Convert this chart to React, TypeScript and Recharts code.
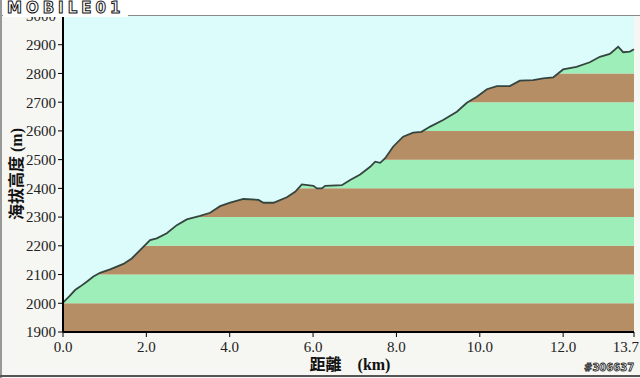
import React from 'react';
import {
  ComposedChart, Area, Line, XAxis, YAxis, ReferenceArea, Label,
} from 'recharts';

// Elevation profile (km, m)
const distances = [
  0, 0.15, 0.29, 0.41, 0.57, 0.73, 0.89, 1.13, 1.45, 1.65, 1.85, 2.09, 2.25, 2.49, 2.73, 2.97,
  3.29, 3.53, 3.77, 4.01, 4.33, 4.69, 4.81, 5.05, 5.37, 5.57, 5.73, 6.01, 6.09, 6.21, 6.29,
  6.69, 6.89, 7.13, 7.37, 7.49, 7.61, 7.73, 7.92, 8.16, 8.4, 8.6, 8.81, 9.12, 9.45, 9.69,
  9.93, 10.17, 10.41, 10.72, 10.96, 11.28, 11.52, 11.76, 12.0, 12.32, 12.64, 12.88, 13.12,
  13.32, 13.44, 13.6, 13.7,
];
const elevations = [
  2002, 2024, 2046, 2058, 2075, 2093, 2106, 2118, 2137, 2156, 2185, 2220, 2226, 2244, 2272, 2292,
  2304, 2315, 2338, 2350, 2363, 2360, 2350, 2350, 2369, 2388, 2414, 2409, 2400, 2400, 2409,
  2411, 2429, 2448, 2475, 2493, 2489, 2505, 2545, 2580, 2594, 2597, 2615, 2638, 2667, 2698,
  2719, 2745, 2756, 2756, 2775, 2777, 2783, 2786, 2814, 2823, 2839, 2858, 2868,
  2893, 2874, 2876, 2884,
];

const xTicks = [0, 2, 4, 6, 8, 10, 12, 13.7];
const yTicks = [1900, 2000, 2100, 2200, 2300, 2400, 2500, 2600, 2700, 2800, 2900, 3000];
const bandStarts = [1900, 2000, 2100, 2200, 2300, 2400, 2500, 2600, 2700, 2800, 2900];

const Y_MIN = 1900;
const Y_MAX = 3000;
const X_MAX = 13.7;

const data = distances.map((d, i) => ({ d, elev: elevations[i] }));

const BROWN = '#B68E66';
const GREEN = '#9EEEBA';
const SKY = '#DCFCFC';

const serif = '"Liberation Serif", serif';
const tickFont = { fontFamily: serif, fontSize: 15, fill: '#222' };

// last x tick is pulled inside so it isn't clipped at the right edge
const XTick = (props: any) => {
  const { x, y, payload } = props;
  const last = payload.value === X_MAX;
  return (
    <text x={last ? x + 5 : x} y={y} dy="0.71em" textAnchor={last ? 'end' : 'middle'} fontFamily={serif} fontSize={15} fill="#222">
      {Number(payload.value).toFixed(1)}
    </text>
  );
};

export default function App() {
  return (
    <div style={{ position: 'absolute', left: 0, top: 0, width: 640, height: 378, background: '#F6F6F2', overflow: 'hidden' }}>
      {/* top white strip */}
      <div style={{ position: 'absolute', left: 0, top: 0, width: 640, height: 15, background: '#fff', borderBottom: '1px solid #888' }} />
      <div style={{ position: 'absolute', left: 0, top: 0, width: 2, height: 378, background: '#999' }} />
      <div style={{ position: 'absolute', left: 0, top: 375, width: 640, height: 2, background: '#555' }} />

      <div style={{ position: 'absolute', left: 0, top: 0 }}>
        <ComposedChart width={640} height={378} data={data} margin={{ top: 16, right: 6, bottom: 0, left: 8 }}>
          {bandStarts.map((b, i) => (
            <ReferenceArea key={b} x1={0} x2={X_MAX} y1={b} y2={b + 100} fill={i % 2 === 0 ? BROWN : GREEN} fillOpacity={1} stroke="none" ifOverflow="hidden" />
          ))}
          <XAxis
            dataKey="d"
            type="number"
            domain={[0, X_MAX]}
            ticks={xTicks}
            tick={<XTick />}
            axisLine={{ stroke: '#000', strokeWidth: 2 }}
            tickLine={{ stroke: '#000' }}
            tickSize={5}
            tickMargin={4}
            height={46}
            interval={0}
          >
            <Label
              content={() => (
                <text x={350} y={370} textAnchor="middle" fontFamily='"Liberation Serif", "Noto Sans CJK TC", serif' fontWeight="bold" fontSize={16} fill="#111">
                  距離　(km)
                </text>
              )}
            />
          </XAxis>
          <YAxis
            type="number"
            domain={[Y_MIN, Y_MAX]}
            ticks={yTicks}
            tick={tickFont}
            axisLine={{ stroke: '#000', strokeWidth: 2 }}
            tickLine={{ stroke: '#000' }}
            tickSize={5}
            tickMargin={2}
            width={55}
            interval={0}
            allowDataOverflow
          >
            <Label
              content={() => (
                <text x={16} y={174} transform="rotate(-90 16 174)" textAnchor="middle" dominantBaseline="central" fontFamily='"Liberation Serif", "Noto Sans CJK TC", serif' fontWeight="bold" fontSize={16} fill="#111">
                  海拔高度 (m)
                </text>
              )}
            />
          </YAxis>
          <YAxis yAxisId="frame" orientation="right" width={0} tick={false} tickLine={false} axisLine={{ stroke: '#555' }} domain={[0, 1]} />
          <Area
            dataKey={(p: { elev: number }) => [p.elev, Y_MAX]}
            type="linear"
            fill={SKY}
            fillOpacity={1}
            stroke="none"
            isAnimationActive={false}
          />
          <Line dataKey="elev" type="linear" stroke="#34443E" strokeWidth={1.8} dot={false} isAnimationActive={false} />
        </ComposedChart>
      </div>

      {/* watermarks */}
      <div style={{ position: 'absolute', left: 3, top: 0, height: 17, padding: '0 4px', background: '#fff', fontFamily: '"DejaVu Sans", sans-serif', fontWeight: 'bold', fontSize: 15, letterSpacing: 4, color: '#fff', WebkitTextStroke: '1px #111', lineHeight: '17px' }}>
        MOBILE01
      </div>
      <div style={{ position: 'absolute', left: 584, top: 362, fontFamily: '"DejaVu Sans", sans-serif', fontWeight: 'bold', fontSize: 10, color: '#fff', WebkitTextStroke: '0.8px #222', lineHeight: '12px' }}>
        #306637
      </div>
    </div>
  );
}
